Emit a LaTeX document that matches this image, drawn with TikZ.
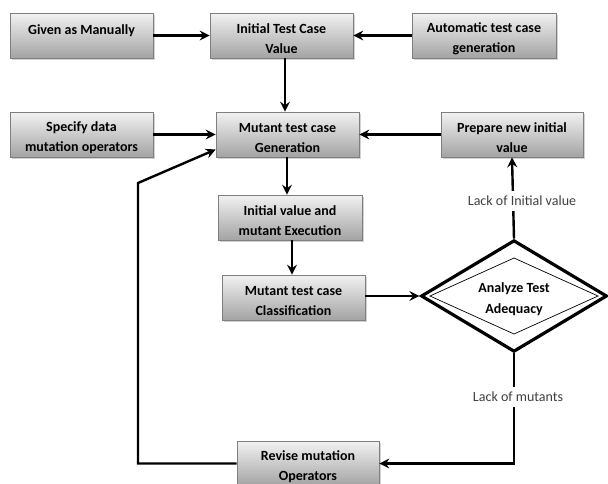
\documentclass[tikz,border=0pt]{standalone}
\usepackage{fontspec}
\setmainfont{Carlito}
\usetikzlibrary{arrows.meta,shapes.geometric,shadows}
\definecolor{boxborder}{HTML}{7F7F7F}
\definecolor{boxtop}{HTML}{F2F2F2}
\definecolor{boxbot}{HTML}{A3A3A3}
\definecolor{lbltext}{HTML}{404040}
\newcommand{\tp}{\rule{0pt}{17pt}}
\tikzset{
  stepbox/.style={rectangle, draw=boxborder, line width=0.7pt,
    top color=boxtop, bottom color=boxbot,
    minimum width=143pt, minimum height=45pt, inner sep=0pt,
    align=center, font=\fontsize{14}{20}\selectfont\bfseries,
    drop shadow={shadow xshift=1.5pt, shadow yshift=-1.5pt, opacity=0.35}},
  arr/.style={line width=2.4pt, -{Stealth[length=10pt,width=10pt,inset=3.5pt]}},
  lbl/.style={fill=white, inner xsep=2pt, inner ysep=5pt, text=lbltext, font=\fontsize{14}{16}\selectfont}
}
\begin{document}
\begin{tikzpicture}[x=1pt,y=-1pt]
\useasboundingbox (0,0) rectangle (608,483);
\fill[white] (0,0) rectangle (608,483);
% boxes
\node[stepbox] (given) at (81.5,35.5) {\tp Given as Manually\\\mbox{}};
\node[stepbox] (init) at (281.5,35.5) {\tp Initial Test Case\\Value};
\node[stepbox, minimum width=144pt] (auto) at (484,35.5) {\tp Automatic test case\\generation};
\node[stepbox] (spec) at (81.5,134.5) {\tp Specify data\\mutation operators};
\node[stepbox] (mgen) at (287.5,134.5) {\tp Mutant test case\\Generation};
\node[stepbox, minimum width=142pt] (prep) at (512,134.5) {\tp Prepare new initial\\value};
\node[stepbox, minimum width=144pt] (exec) at (290,217.5) {\tp Initial value and\\mutant Execution};
\node[stepbox] (cls) at (293.5,297.5) {\tp Mutant test case\\Classification};
\node[stepbox, minimum width=142pt] (rev) at (308,463.5) {\tp Revise mutation\\Operators};
% diamond
\node[diamond, draw, line width=3.2pt, fill=white, minimum width=186pt, minimum height=86pt,
      inner sep=0pt, align=center, font=\fontsize{14}{21}\selectfont\bfseries] (dia) at (514,296) {\tp Analyze Test\\Adequacy};
\draw[line width=0.7pt] (514,258) -- (598,296) -- (514,334) -- (430,296) -- cycle;
% helper coordinates
\coordinate (xa) at (285,0);
\coordinate (xb) at (287,0);
\coordinate (xc) at (292,0);
\coordinate (fbA) at (138,463.5);
\coordinate (fbB) at (138,183);
\coordinate (corner) at (514,463.5);
% connectors
\draw[arr] (given) -- (init);
\draw[arr] (auto) -- (init);
\draw[arr] (init.south -| xa) -- (mgen.north -| xa);
\draw[arr] (spec) -- (mgen);
\draw[arr] (prep) -- (mgen);
\draw[arr] (mgen.south -| xb) -- (exec.north -| xb);
\draw[arr] (exec.south -| xc) -- (cls.north -| xc);
\draw[arr] (cls.east |- dia.west) -- (dia.west);
\draw[arr] (dia.north) -- (prep.south);
\draw[arr] (dia.south) -- (corner) -- (rev.east);
\draw[arr, line join=miter] (rev.west) -- (fbA) -- (fbB) -- ([yshift=-15pt]mgen.west);
% labels
\node[lbl] (lblinit) at (522,201) {Lack of Initial value};
\node[lbl] (lblmut) at (518,397) {Lack of mutants};
\end{tikzpicture}
\end{document}
